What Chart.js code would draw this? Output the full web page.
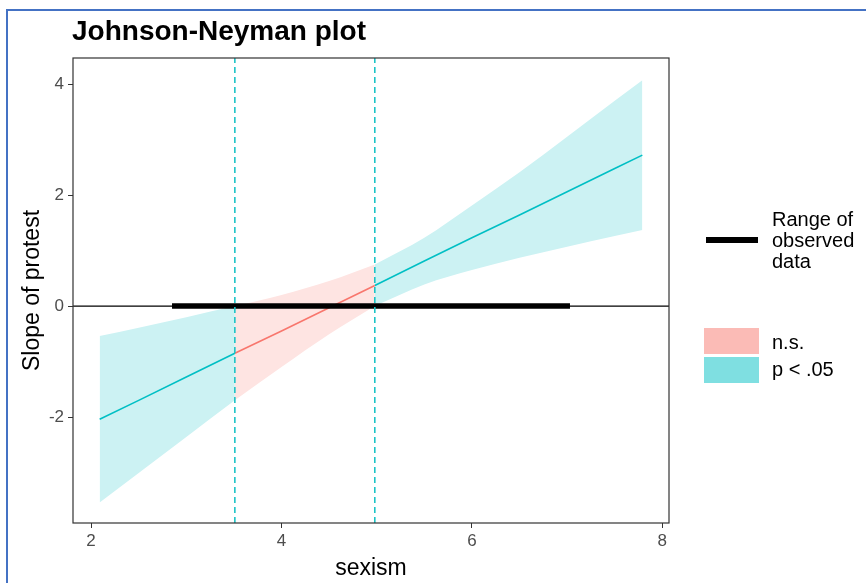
<!DOCTYPE html>
<html>
<head>
<meta charset="utf-8">
<script src="https://cdn.jsdelivr.net/npm/chart.js@4"></script>
<style>
  body { margin: 0; background: #fff; font-family: "Liberation Sans", Arial, sans-serif; }
  #wrap { position: relative; width: 866px; height: 583px; overflow: hidden; }
  #frame { position: absolute; left: 6px; top: 9px; width: 900px; height: 600px;
           border-left: 2px solid #4472C4; border-top: 2px solid #4472C4; }
  #jn { position: absolute; left: 0; top: 0; }
  #title { position: absolute; left: 72px; top: 17px; font-size: 28px; line-height: 28px;
           font-weight: bold; color: #000; white-space: nowrap; }
  .leg { position: absolute; color: #000; font-size: 20px; line-height: 21px; }
  .key { position: absolute; }
</style>
</head>
<body>
<div id="wrap">
  <div id="frame"></div>
  <canvas id="jn" width="866" height="583"></canvas>
  <div id="title">Johnson-Neyman plot</div>
  <div class="key" style="left:706px; top:237px; width:52px; height:6px; background:#000;"></div>
  <div class="leg" style="left:772px; top:209px;">Range of<br>observed<br>data</div>
  <div class="key" style="left:704px; top:328px; width:55px; height:26px; background:rgb(251,187,182);"></div>
  <div class="key" style="left:704px; top:357px; width:55px; height:26px; background:rgb(127,223,225);"></div>
  <div class="leg" style="left:772px; top:332px;">n.s.</div>
  <div class="leg" style="left:772px; top:359px;">p &lt; .05</div>
</div>
<script>
// values
const sexism  = [2.09, 2.5, 3.0, 3.51, 4.0, 4.5, 4.98, 5.5, 6.0, 6.5, 7.0, 7.5, 7.79];
const slope   = [-2.04, -1.70, -1.28, -0.85, -0.45, -0.03, 0.37, 0.81, 1.23, 1.64, 2.06, 2.48, 2.72];
const ciLower = [-3.54, -3.01, -2.36, -1.70, -1.10, -0.51, 0.00, 0.39, 0.65, 0.87, 1.07, 1.26, 1.37];
const ciUpper = [-0.54, -0.39, -0.20, 0.00, 0.20, 0.45, 0.75, 1.23, 1.81, 2.41, 3.05, 3.70, 4.07];
const jnBounds = [3.51, 4.98];
const observedRange = [2.85, 7.03];
const xTicks = [2, 4, 6, 8];
const yTicks = [-2, 0, 2, 4];

const xMin = 1.81, xMax = 8.07, yMin = -3.91, yMax = 4.47;
const cyan = '#00BFC4', red = '#F8766D';
const cyanFill = 'rgb(204,242,243)', redFill = 'rgb(254,228,226)';

Chart.defaults.font.family = '"Liberation Sans", Arial, sans-serif';

// index ranges of the three regions (cyan | n.s. | cyan)
const regions = [[0, 3, cyan, cyanFill], [3, 6, red, redFill], [6, 12, cyan, cyanFill]];
const seg = (arr, a, b) => {
  const out = [];
  for (let i = a; i <= b; i++) out.push({x: sexism[i], y: arr[i]});
  return out;
};

const datasets = [];
regions.forEach(r => {
  datasets.push({data: seg(ciLower, r[0], r[1]), borderWidth: 0, pointRadius: 0, fill: false,
                 cubicInterpolationMode: 'monotone', order: 5});
  datasets.push({data: seg(ciUpper, r[0], r[1]), borderWidth: 0, pointRadius: 0,
                 cubicInterpolationMode: 'monotone', fill: '-1', backgroundColor: r[3], order: 5});
});
regions.forEach(r => {
  datasets.push({data: seg(slope, r[0], r[1]), borderColor: r[2], borderWidth: 1.6,
                 pointRadius: 0, fill: false, order: 3});
});
datasets.push({data: [{x: xMin, y: 0}, {x: xMax, y: 0}], borderColor: '#000', borderWidth: 1.3,
               pointRadius: 0, fill: false, order: 2});
datasets.push({data: [{x: observedRange[0], y: 0}, {x: observedRange[1], y: 0}], borderColor: '#000',
               borderWidth: 5.5, borderCapStyle: 'butt', pointRadius: 0, fill: false, order: 1});
jnBounds.forEach(b => {
  datasets.push({data: [{x: b, y: yMin}, {x: b, y: yMax}], borderColor: '#1CC4C7', borderWidth: 1.6,
                 borderDash: [6, 4], pointRadius: 0, fill: false, order: 0});
});

const panelBorder = {
  id: 'panelBorder',
  afterDatasetsDraw(chart) {
    const {ctx, chartArea: a} = chart;
    ctx.save();
    ctx.strokeStyle = '#333';
    ctx.lineWidth = 1.2;
    ctx.strokeRect(a.left, a.top, a.right - a.left, a.bottom - a.top);
    ctx.restore();
  }
};

const tickFont = {size: 17};
new Chart(document.getElementById('jn'), {
  type: 'line',
  data: {datasets},
  options: {
    responsive: false,
    animation: false,
    layout: {padding: {top: 58, right: 197, left: 0, bottom: 0}},
    plugins: {legend: {display: false}, tooltip: {enabled: false}},
    scales: {
      x: {
        type: 'linear', min: xMin, max: xMax,
        afterFit: s => { s.height = 60; },
        afterBuildTicks: s => { s.ticks = xTicks.map(v => ({value: v})); },
        ticks: {color: '#4D4D4D', font: tickFont, padding: 3, maxRotation: 0},
        grid: {drawOnChartArea: false, tickLength: 5, color: '#333'},
        border: {display: false},
        title: {display: true, text: 'sexism', color: '#000', font: {size: 23}, padding: {top: 0, bottom: 1}}
      },
      y: {
        type: 'linear', min: yMin, max: yMax,
        afterFit: s => { s.width = 73; },
        afterBuildTicks: s => { s.ticks = yTicks.map(v => ({value: v})); },
        ticks: {color: '#4D4D4D', font: tickFont, padding: 4},
        grid: {drawOnChartArea: false, tickLength: 5, color: '#333'},
        border: {display: false},
        title: {display: true, text: 'Slope of protest', color: '#000', font: {size: 23}, padding: {top: 19, bottom: 0}}
      }
    }
  },
  plugins: [panelBorder]
});
</script>
</body>
</html>
